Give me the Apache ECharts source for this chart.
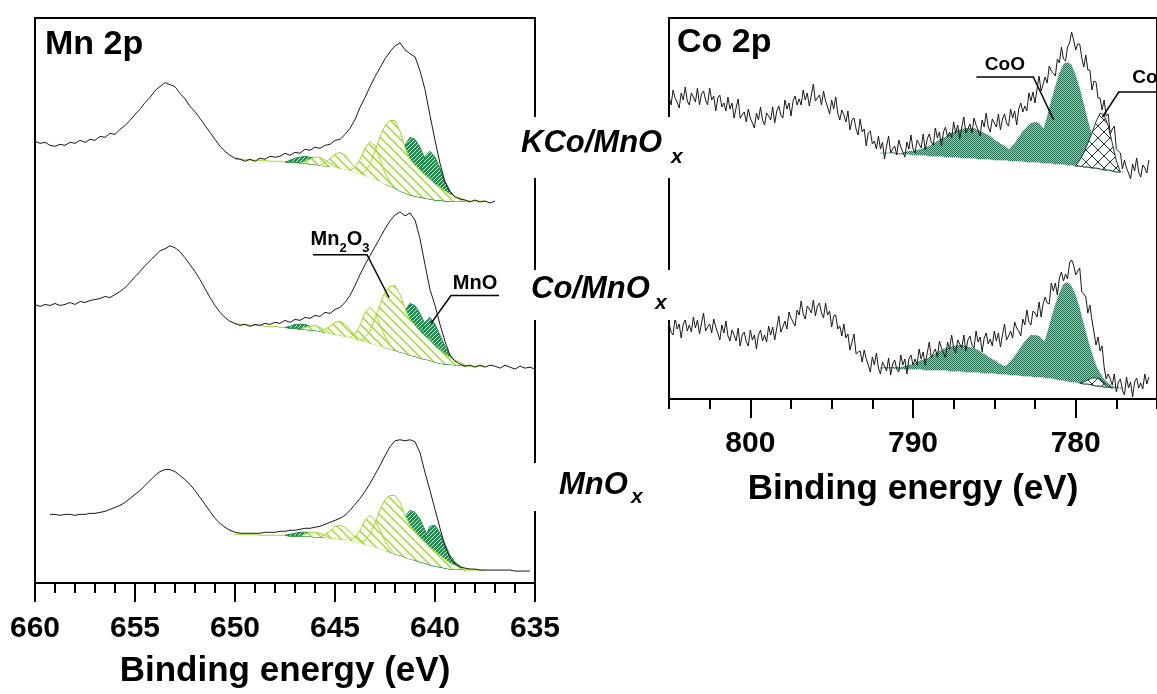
<!DOCTYPE html>
<html>
<head>
<meta charset="utf-8">
<title>Mn 2p / Co 2p XPS</title>
<script src="https://cdn.jsdelivr.net/npm/echarts@6.0.0/dist/echarts.min.js"></script>
<style>
  html, body { margin: 0; padding: 0; background: #fff; }
  #chart { width: 1157px; height: 694px; }
</style>
</head>
<body>
<div id="chart"></div>
<script>
const FONT = 'Liberation Sans';
const MN_STEP = 0.25;  // eV between Mn 2p points (and all fit grids)
const CO_STEP = 0.125; // eV between Co 2p raw points

// ---- Mn 2p raw spectra (a.u.), high -> low binding energy
const mnKStart = 660.0;   // KCo/MnOx
const mnK = [
  44.4, 44.2, 44.3, 44.0, 43.9, 44.1, 44.0, 44.3, 44.2, 44.5,
  44.3, 44.6, 44.5, 44.9, 44.8, 45.2, 45.1, 45.6, 46.0, 46.5,
  47.1, 47.6, 48.3, 48.8, 49.5, 49.9, 50.3, 50.1, 49.9, 49.2,
  48.7, 47.9, 47.4, 46.7, 46.0, 45.3, 44.6, 43.9, 43.4, 43.0,
  42.7, 42.6, 42.4, 42.6, 42.4, 42.7, 42.6, 42.9, 42.8, 42.9,
  43.2, 43.0, 43.3, 43.2, 43.6, 43.5, 43.8, 43.7, 44.0, 44.1,
  44.5, 44.6, 45.1, 45.7, 46.6, 47.8, 48.8, 49.9, 50.9, 51.8,
  52.7, 53.4, 54.0, 54.3, 53.6, 53.2, 52.9, 51.5, 49.6, 47.0,
  44.5, 42.2, 40.3, 39.3, 38.8, 38.6, 38.5, 38.3, 38.5, 38.3,
  38.4, 38.2, 38.4
];
const mnCStart = 660.0;   // Co/MnOx
const mnC = [
  28.0, 27.8, 28.0, 27.9, 28.1, 27.9, 28.0, 28.2, 28.0, 28.3,
  28.2, 28.4, 28.5, 28.6, 28.8, 28.7, 29.0, 29.3, 29.7, 30.2,
  30.8, 31.3, 31.9, 32.4, 32.9, 33.4, 33.6, 33.9, 33.7, 33.3,
  32.7, 32.0, 31.3, 30.5, 29.6, 28.7, 27.9, 27.2, 26.7, 26.3,
  26.1, 25.9, 26.0, 25.8, 26.0, 25.9, 26.1, 26.0, 26.2, 26.1,
  26.4, 26.2, 26.5, 26.4, 26.7, 26.6, 26.9, 26.8, 27.2, 27.1,
  27.5, 27.7, 28.2, 28.9, 29.9, 31.0, 32.0, 32.9, 33.8, 34.7,
  35.6, 36.4, 37.0, 37.3, 36.9, 37.2, 36.5, 34.6, 32.0, 29.5,
  27.9, 26.0, 24.3, 22.9, 22.3, 22.0, 21.8, 21.9, 21.7, 21.9,
  21.7, 21.9, 21.8, 21.6, 21.9, 21.7, 21.5, 21.8, 21.6, 21.7,
  21.5
];
const mnMStart = 659.25;  // MnOx
const mnM = [
  6.9, 6.9, 6.8, 6.9, 6.9, 6.8, 6.9, 6.9, 7.0, 7.0,
  7.1, 7.2, 7.4, 7.6, 7.8, 8.1, 8.5, 8.9, 9.3, 9.8,
  10.3, 10.8, 11.2, 11.4, 11.4, 11.2, 10.8, 10.4, 9.9, 9.3,
  8.6, 7.9, 7.2, 6.5, 6.0, 5.6, 5.3, 5.1, 5.0, 5.0,
  5.0, 5.0, 5.0, 5.1, 5.1, 5.1, 5.2, 5.2, 5.3, 5.3,
  5.4, 5.5, 5.5, 5.6, 5.7, 5.9, 6.1, 6.3, 6.5, 6.8,
  7.3, 7.9, 8.5, 9.2, 10.0, 10.9, 11.8, 12.8, 13.7, 14.3,
  14.4, 14.3, 14.4, 14.2, 13.1, 11.1, 9.3, 7.4, 5.5, 3.7,
  2.5, 1.9, 1.6, 1.5, 1.4, 1.4, 1.3, 1.3, 1.3, 1.3,
  1.3, 1.3, 1.3, 1.2, 1.2, 1.2, 1.2
];

// ---- Mn 2p fit backgrounds, 650 -> 637.5 eV
const mnFitStart = 650.0;
const mnKBase = [
  42.6, 42.6, 42.6, 42.5, 42.5, 42.5, 42.5, 42.4, 42.4, 42.4,
  42.3, 42.3, 42.3, 42.2, 42.2, 42.1, 42.1, 42.0, 41.9, 41.9,
  41.8, 41.7, 41.6, 41.5, 41.3, 41.2, 41.0, 40.8, 40.6, 40.4,
  40.1, 39.9, 39.7, 39.4, 39.2, 39.0, 38.9, 38.8, 38.7, 38.6,
  38.5, 38.5, 38.4, 38.4, 38.4, 38.4, 38.4, 38.4, 38.4, 38.4,
  38.4
];
const mnCBase = [
  26.0, 26.0, 26.0, 25.9, 25.9, 25.9, 25.8, 25.8, 25.8, 25.7,
  25.7, 25.6, 25.6, 25.5, 25.5, 25.4, 25.4, 25.3, 25.2, 25.1,
  25.0, 24.9, 24.8, 24.7, 24.5, 24.4, 24.3, 24.1, 24.0, 23.8,
  23.7, 23.5, 23.4, 23.2, 23.1, 22.9, 22.8, 22.6, 22.5, 22.4,
  22.2, 22.1, 22.0, 22.0, 21.9, 21.9, 21.8, 21.8, 21.8, 21.8,
  21.8
];
const mnMBase = [
  4.9, 4.9, 4.9, 4.9, 4.9, 4.8, 4.8, 4.8, 4.8, 4.8,
  4.8, 4.7, 4.7, 4.7, 4.7, 4.7, 4.6, 4.6, 4.6, 4.5,
  4.5, 4.4, 4.4, 4.3, 4.2, 4.1, 3.9, 3.8, 3.6, 3.5,
  3.3, 3.1, 2.9, 2.8, 2.6, 2.4, 2.3, 2.1, 2.0, 1.8,
  1.7, 1.6, 1.5, 1.4, 1.4, 1.4, 1.3, 1.3, 1.3, 1.3,
  1.3
];

// fitted components: [first energy, heights above the background]
const mnKMn2O3 = [
  [646.75, [0, 0.2, 0.5, 0.7, 0.8, 0.6, 0.3, 0.1, 0]],
  [645.75, [0, 0.3, 0.8, 1.3, 1.6, 1.4, 0.9, 0.4, 0.1, 0]],
  [644.25, [0, 0.5, 1.4, 2.7, 3.6, 3.3, 2.2, 1.1, 0.4, 0]],
  [643.75, [0, 0.4, 1.3, 2.8, 4.5, 5.9, 6.6, 6.8, 6.0, 4.6, 3.6, 3.1, 2.7, 2.3, 2.0, 1.6, 1.3, 1.0, 0.7, 0.5, 0.3, 0.1, 0]]
];
const mnKMnO = [
  [647.5, [0, 0.2, 0.4, 0.6, 0.7, 0.7, 0.6, 0.4, 0.2, 0]],
  [642.5, [0, 0.5, 1.6, 3.2, 4.8, 5.8, 5.7, 5.0, 3.9, 2.6, 1.5, 0.7, 0.2, 0]],
  [641.25, [0, 0.8, 2.4, 4.2, 4.8, 4.3, 3.2, 2.0, 1.0, 0.4, 0.1, 0]]
];
const mnCMn2O3 = [
  [646.75, [0, 0.2, 0.4, 0.5, 0.4, 0.2, 0]],
  [645.75, [0, 0.3, 0.7, 1.2, 1.4, 1.2, 0.8, 0.4, 0.1, 0]],
  [644.25, [0, 0.5, 1.5, 2.9, 3.6, 3.2, 2.1, 1.1, 0.4, 0]],
  [643.75, [0, 0.4, 1.2, 2.6, 4.2, 5.6, 6.3, 6.5, 5.8, 4.5, 3.6, 3.1, 2.7, 2.3, 2.0, 1.6, 1.3, 1.0, 0.7, 0.5, 0.3, 0.1, 0]]
];
const mnCMnO = [
  [647.5, [0, 0.2, 0.4, 0.5, 0.5, 0.4, 0.3, 0.1, 0]],
  [642.5, [0, 0.5, 1.5, 2.9, 4.3, 5.2, 5.1, 4.5, 3.5, 2.3, 1.3, 0.6, 0.2, 0]],
  [641.25, [0, 0.7, 2.1, 3.7, 4.3, 3.8, 2.8, 1.8, 0.9, 0.4, 0.1, 0]]
];
const mnMMn2O3 = [
  [646.75, [0, 0.2, 0.4, 0.5, 0.4, 0.2, 0]],
  [645.75, [0, 0.3, 0.7, 1.2, 1.4, 1.2, 0.8, 0.4, 0.1, 0]],
  [644.25, [0, 0.4, 1.2, 2.4, 3.0, 2.7, 1.8, 0.9, 0.3, 0]],
  [643.75, [0, 0.4, 1.1, 2.4, 3.9, 5.1, 5.7, 5.9, 5.3, 4.2, 3.4, 2.9, 2.5, 2.1, 1.8, 1.5, 1.2, 0.9, 0.6, 0.4, 0.2, 0.1, 0]]
];
const mnMMnO = [
  [647.5, [0, 0.2, 0.3, 0.4, 0.4, 0.3, 0.2, 0.1, 0]],
  [642.5, [0, 0.4, 1.4, 2.8, 4.1, 4.9, 4.8, 4.3, 3.3, 2.2, 1.3, 0.6, 0.2, 0]],
  [641.0, [0, 1.0, 2.6, 3.9, 4.1, 3.4, 2.4, 1.4, 0.7, 0.3, 0]]
];

// ---- Co 2p raw spectra (a.u.), 805 -> 775.5 eV
const coStart = 805.0;
const coK = [
  30.3, 29.4, 30.9, 30.1, 29.7, 29.1, 30.6, 29.9,
  31.2, 29.8, 29.4, 30.6, 30.2, 29.7, 31.1, 29.4,
  30.5, 30.8, 29.9, 29.4, 31.1, 29.9, 30.3, 28.8,
  30.1, 30.4, 29.2, 29.6, 28.8, 30.2, 29.0, 29.6,
  28.1, 29.1, 30.0, 28.1, 28.4, 28.7, 27.7, 29.0,
  28.1, 27.6, 27.1, 28.6, 27.9, 29.2, 27.9, 27.4,
  28.6, 28.3, 27.9, 29.2, 27.6, 28.8, 29.3, 28.4,
  28.1, 29.9, 29.0, 29.6, 28.3, 29.8, 30.3, 29.4,
  30.0, 29.4, 30.9, 29.9, 30.6, 29.3, 30.4, 31.5,
  29.8, 30.1, 30.4, 29.4, 30.8, 29.8, 29.2, 28.5,
  29.9, 29.0, 30.2, 28.6, 27.9, 28.9, 28.4, 27.7,
  28.8, 26.9, 27.9, 28.1, 27.0, 26.4, 28.0, 26.7,
  27.0, 25.3, 26.6, 26.8, 25.5, 25.8, 25.0, 26.3,
  25.0, 25.7, 24.0, 25.3, 26.3, 24.6, 25.0, 25.3,
  24.4, 25.9, 25.2, 24.7, 24.2, 25.7, 25.0, 26.4,
  25.0, 24.6, 25.9, 25.5, 25.1, 26.5, 24.9, 26.0,
  26.5, 25.7, 25.4, 27.1, 26.1, 26.7, 25.3, 26.7,
  27.2, 26.2, 26.7, 26.1, 27.7, 26.6, 27.4, 26.0,
  27.2, 28.2, 26.6, 27.0, 27.5, 26.6, 28.1, 27.4,
  26.9, 26.3, 27.9, 27.2, 28.6, 27.2, 26.7, 28.0,
  27.6, 27.2, 28.5, 26.9, 28.0, 28.5, 27.6, 27.3,
  29.0, 28.1, 28.8, 27.4, 29.0, 29.6, 28.7, 29.3,
  28.8, 30.6, 29.8, 30.7, 29.6, 31.0, 32.3, 30.8,
  31.5, 32.2, 31.6, 33.3, 32.8, 32.6, 32.3, 34.0,
  33.6, 35.2, 34.0, 33.8, 35.2, 35.6, 36.7, 35.9,
  34.9, 35.5, 35.5, 34.1, 33.2, 34.4, 32.9, 32.9,
  30.9, 31.8, 31.7, 30.1, 30.1, 28.9, 29.9, 28.3,
  28.5, 26.5, 27.0, 27.3, 25.0, 24.8, 24.6, 23.0,
  23.9, 23.1, 22.6, 22.0, 23.5, 22.8, 24.1, 22.7,
  22.2, 23.4, 23.1, 22.6, 23.9
];
const coC = [
  7.6, 6.7, 6.4, 8.1, 7.0, 7.5, 6.1, 7.5,
  7.9, 6.8, 7.4, 6.7, 8.2, 7.1, 7.9, 6.5,
  7.6, 8.6, 6.8, 7.2, 7.5, 6.6, 8.0, 7.2,
  6.6, 5.9, 7.4, 6.6, 7.8, 6.3, 5.8, 6.9,
  6.4, 5.8, 7.1, 5.3, 6.4, 6.7, 5.7, 5.3,
  6.9, 5.9, 6.4, 5.0, 6.4, 6.9, 5.8, 6.4,
  5.7, 7.3, 6.4, 7.2, 5.9, 7.1, 8.3, 6.7,
  7.2, 7.8, 7.0, 8.7, 8.1, 7.7, 7.3, 8.9,
  8.4, 9.8, 8.5, 8.0, 9.3, 9.0, 8.6, 9.9,
  8.3, 9.3, 9.6, 8.6, 8.1, 9.6, 8.4, 8.8,
  7.2, 8.3, 8.4, 7.0, 7.3, 6.3, 7.5, 6.1,
  6.5, 4.9, 5.7, 6.5, 4.5, 4.7, 4.8, 3.7,
  4.9, 4.0, 3.4, 2.7, 4.2, 3.4, 4.6, 3.1,
  2.5, 3.7, 3.3, 2.8, 4.1, 2.4, 3.5, 3.9,
  3.0, 2.7, 4.4, 3.4, 4.0, 2.5, 4.0, 4.4,
  3.4, 4.0, 3.4, 5.0, 4.0, 4.7, 3.4, 4.6,
  5.7, 4.1, 4.6, 5.0, 4.2, 5.8, 5.1, 4.6,
  4.1, 5.7, 5.0, 6.4, 5.1, 4.6, 5.9, 5.5,
  5.1, 6.4, 4.8, 5.9, 6.3, 5.4, 5.1, 6.8,
  5.7, 6.2, 4.7, 6.1, 6.6, 5.5, 6.0, 5.3,
  6.8, 5.8, 6.6, 5.2, 6.4, 7.5, 5.9, 6.3,
  6.8, 6.1, 7.7, 7.1, 6.8, 6.3, 8.0, 7.4,
  8.9, 7.7, 7.4, 8.8, 8.6, 8.2, 9.7, 8.2,
  9.5, 10.2, 9.6, 9.5, 11.6, 10.8, 11.6, 10.4,
  12.1, 12.7, 11.8, 12.5, 12.0, 13.6, 13.9, 13.4,
  12.4, 12.8, 13.1, 10.7, 10.5, 10.2, 8.6, 9.4,
  7.9, 6.7, 5.4, 6.2, 4.8, 5.3, 3.2, 2.0,
  2.5, 2.0, 1.4, 2.5, 0.7, 1.7, 2.0, 0.9,
  0.4, 2.2, 1.1, 1.7, 0.2, 1.7, 2.1, 1.1,
  1.6, 1.0, 2.5, 1.5, 2.2
];

// ---- Co 2p fit backgrounds, 792 -> 777 eV (0.25 eV)
const coFitStart = 792.0;
const coKBase = [
  24.6, 24.6, 24.6, 24.6, 24.5, 24.5, 24.5, 24.5, 24.4, 24.4,
  24.4, 24.4, 24.3, 24.3, 24.3, 24.3, 24.2, 24.2, 24.2, 24.2,
  24.1, 24.1, 24.1, 24.1, 24.0, 24.0, 24.0, 24.0, 23.9, 23.9,
  23.9, 23.9, 23.8, 23.8, 23.8, 23.8, 23.7, 23.7, 23.7, 23.7,
  23.6, 23.6, 23.6, 23.5, 23.5, 23.5, 23.4, 23.4, 23.3, 23.3,
  23.2, 23.2, 23.1, 23.1, 23.0, 22.9, 22.9, 22.8, 22.7, 22.7,
  22.7
];
const coCBase = [
  3.1, 3.1, 3.1, 3.1, 3.0, 3.0, 3.0, 3.0, 3.0, 3.0,
  3.0, 2.9, 2.9, 2.9, 2.9, 2.9, 2.9, 2.8, 2.8, 2.8,
  2.8, 2.7, 2.7, 2.7, 2.7, 2.6, 2.6, 2.6, 2.6, 2.5,
  2.5, 2.5, 2.4, 2.4, 2.4, 2.3, 2.3, 2.3, 2.2, 2.2,
  2.2, 2.1, 2.1, 2.0, 1.9, 1.9, 1.8, 1.7, 1.7, 1.6,
  1.5, 1.5, 1.4, 1.3, 1.3, 1.2, 1.2, 1.1, 1.1, 1.1,
  1.1
];
const coKCoO = [
  [791.5, [0, 0.1, 0.1, 0.1, 0.2, 0.3, 0.4, 0.5, 0.6, 0.8, 1.0, 1.3, 1.5, 1.8, 2.0, 2.3, 2.5, 2.7, 2.9, 3.0,
           3.0, 3.0, 2.9, 2.7, 2.5, 2.3, 2.0, 1.8, 1.5, 1.3, 1.0, 0.8, 0.6, 0.5, 0.4, 0.3, 0.2, 0.1, 0.1, 0.1, 0]],
  [785.5, [0, 0.1, 0.2, 0.3, 0.5, 0.9, 1.3, 1.8, 2.4, 3.0, 3.5, 3.9, 4.0, 3.9, 3.5, 3.0, 2.4, 1.8, 1.3, 0.9, 0.5, 0.3, 0.2, 0.1, 0]],
  [783.75, [0, 0.1, 0.2, 0.5, 0.8, 1.4, 2.2, 3.3, 4.7, 6.3, 7.8, 9.1, 10.0, 10.3, 10.0, 9.1, 7.8, 6.3, 4.7, 3.3, 2.2, 1.4, 0.8, 0.5, 0.2, 0.1, 0]]
];
const coKCo3O4 = [
  [780.0, [0, 0.6, 1.4, 2.4, 3.5, 4.6, 5.6, 5.5, 4.4, 2.8, 1.1, 0]]
];
const coCCoO = [
  [792.0, [0, 0.1, 0.1, 0.1, 0.2, 0.2, 0.3, 0.4, 0.5, 0.7, 0.9, 1.1, 1.3, 1.5, 1.8, 2.0, 2.2, 2.4, 2.5, 2.6,
           2.6, 2.6, 2.5, 2.4, 2.2, 2.0, 1.8, 1.5, 1.3, 1.1, 0.9, 0.7, 0.5, 0.4, 0.3, 0.2, 0.2, 0.1, 0.1, 0.1, 0]],
  [785.5, [0, 0.1, 0.2, 0.3, 0.6, 0.9, 1.4, 1.9, 2.5, 3.2, 3.7, 4.1, 4.2, 4.1, 3.7, 3.2, 2.5, 1.9, 1.4, 0.9, 0.6, 0.3, 0.2, 0.1, 0]],
  [783.75, [0, 0.1, 0.2, 0.4, 0.8, 1.3, 2.1, 3.2, 4.5, 6.0, 7.5, 8.7, 9.6, 9.9, 9.6, 8.7, 7.5, 6.0, 4.5, 3.2, 2.1, 1.3, 0.8, 0.4, 0.2, 0.1, 0]]
];
const coCCo3O4 = [
  [779.75, [0, 0.2, 0.4, 0.7, 0.8, 0.7, 0.4, 0.1, 0]]
];

const coMajorTicks = [780, 790, 800];

// labels with leader lines: text, underline from, underline to (leader starts here), underline level, leader end energy, leader end level
const mnNotes = [
  ['Mn2O3', 646.1, 643.4, 33.0, 642.3, 28.7],
  ['MnO', 636.8, 639.2, 28.9, 640.2, 26.1]
];
const coNotes = [
  ['CoO', 786.1, 782.6, 32.2, 781.35, 27.9],
  ['Co3O4', 772.4, 777.35, 30.7, 778.35, 28.2]
];

// ---- fill patterns
function pattern(size, bg, draw) {
  const c = document.createElement('canvas');
  c.width = size; c.height = size;
  const g = c.getContext('2d');
  g.fillStyle = bg; g.fillRect(0, 0, size, size);
  draw(g, size);
  return { image: c, repeat: 'repeat' };
}
const MN2O3_GREEN = '#9bdc22';
const MNO_GREEN = '#218c4c';
const mn2o3Fill = pattern(9, '#fff', function (g, s) {
  g.strokeStyle = MN2O3_GREEN; g.lineWidth = 1.4;
  g.beginPath();
  g.moveTo(-1, -1); g.lineTo(s + 1, s + 1);
  g.moveTo(s - 1, -1); g.lineTo(s + 1, 1);
  g.moveTo(-1, s - 1); g.lineTo(1, s + 1);
  g.stroke();
});
const mnoFill = pattern(4, '#fff', function (g) {
  g.fillStyle = MNO_GREEN;
  g.fillRect(0, 0, 4, 4);
  g.fillStyle = '#fff';
  [[1, 0], [0, 1], [3, 2], [2, 3]].forEach(function (p) { g.fillRect(p[0], p[1], 1, 1); });
});
const cooFill = pattern(2, '#9ccbb4', function (g) {
  g.fillStyle = '#246e4f';
  g.fillRect(0, 0, 1, 1); g.fillRect(1, 1, 1, 1);
});
const co3o4Fill = pattern(12, '#fff', function (g, s) {
  g.strokeStyle = '#173f30'; g.lineWidth = 1;
  g.beginPath();
  g.moveTo(0, 0); g.lineTo(s, s);
  g.moveTo(s, 0); g.lineTo(0, s);
  g.stroke();
  g.fillStyle = '#173f30';
  g.fillRect(s / 2 - 1, s / 2 - 1, 2, 2);
  g.fillRect(0, 0, 1, 1); g.fillRect(s - 1, 0, 1, 1); g.fillRect(0, s - 1, 1, 1); g.fillRect(s - 1, s - 1, 1, 1);
});

// ---- series builders
const toPairs = (start, step, vals) => vals.map((v, i) => [start - i * step, v]);

function rawLine(xi, yi, start, step, vals) {
  return {
    type: 'line', xAxisIndex: xi, yAxisIndex: yi, z: 6, silent: true,
    data: toPairs(start, step, vals), symbol: 'none',
    lineStyle: { color: '#1a1a1a', width: 1 }
  };
}
function baseLine(xi, yi, start, vals, color, type) {
  return {
    type: 'line', xAxisIndex: xi, yAxisIndex: yi, z: 2, silent: true,
    data: toPairs(start, MN_STEP, vals), symbol: 'none',
    lineStyle: { color: color, width: 1, type: type }
  };
}
function peaks(xi, yi, fitStart, base, list, fill, stroke, z, outlineOnly) {
  return {
    type: 'custom', xAxisIndex: xi, yAxisIndex: yi, z: z, silent: true,
    data: list.map(p => [p[0], base[Math.round((fitStart - p[0]) / MN_STEP)]]),
    encode: { x: 0, y: 1 },
    renderItem: function (params, api) {
      const p = list[params.dataIndex];
      const top = [], bottom = [];
      p[1].forEach(function (h, j) {
        const e = p[0] - j * MN_STEP;
        const b = base[Math.round((fitStart - e) / MN_STEP)];
        top.push(api.coord([e, b + h]));
        bottom.push(api.coord([e, b]));
      });
      if (outlineOnly) {
        return { type: 'polyline', shape: { points: top }, style: { stroke: stroke, lineWidth: 1, fill: null } };
      }
      return {
        type: 'polygon',
        shape: { points: top.concat(bottom.reverse()) },
        style: { fill: fill, stroke: stroke, lineWidth: 1 }
      };
    }
  };
}
function richLabel(s) {
  return s.replace(/([A-Za-z]+)|(\d)/g, (m, a, d) => a ? '{n|' + a + '}' : '{s|' + d + '}');
}
function notes(xi, yi, list, fs) {
  return {
    type: 'custom', xAxisIndex: xi, yAxisIndex: yi, z: 8, silent: true,
    data: list.map(n => [n[1], n[3]]),
    encode: { x: 0, y: 1 },
    renderItem: function (params, api) {
      const n = list[params.dataIndex];
      const a = api.coord([n[1], n[3]]);
      const b = api.coord([n[2], n[3]]);
      const t = api.coord([n[4], n[5]]);
      const sub = /\d/.test(n[0]);
      return {
        type: 'group',
        children: [
          { type: 'polyline', shape: { points: [a, b, t] }, style: { stroke: '#000', lineWidth: 1.5, fill: null } },
          {
            type: 'text', x: (a[0] + b[0]) / 2, y: a[1] - (sub ? 0 : 2.5),
            style: {
              text: richLabel(n[0]), align: 'center', verticalAlign: 'bottom', fill: '#000',
              rich: {
                n: { fontSize: fs, fontWeight: 'bold', fontFamily: FONT, fill: '#000', verticalAlign: 'bottom', padding: [0, 0, sub ? 5 : 0, 0] },
                s: { fontSize: Math.round(fs * 0.65), fontWeight: 'bold', fontFamily: FONT, fill: '#000', verticalAlign: 'bottom' }
              }
            }
          }
        ]
      };
    }
  };
}

const axisFont = { color: '#000', fontSize: 30, fontWeight: 'bold', fontFamily: FONT };
const nameFont = { color: '#000', fontSize: 35, fontWeight: 'bold', fontFamily: FONT };
const blackLine = { color: '#000', width: 2 };

function textEl(x, y, text, font) {
  return { type: 'text', x: x, y: y, z: 101, style: { text: text, font: font, fill: '#000', align: 'left', verticalAlign: 'middle' } };
}
function gap(x, y, h) {
  return { type: 'rect', z: 100, shape: { x: x - 7, y: y, width: 14, height: h }, style: { fill: '#fff' } };
}
const SAMPLE_FONT = 'italic bold 31px "Liberation Sans"';
const SUB_FONT = 'italic bold 21px "Liberation Sans"';

const chart = echarts.init(document.getElementById('chart'));

const option = {
  animation: false,
  backgroundColor: '#fff',
  textStyle: { fontFamily: FONT },
  grid: [
    { left: 35, top: 18, width: 500, height: 568, show: true, borderColor: '#000', borderWidth: 2 },
    { left: 669, top: 18, width: 500, height: 381, show: true, borderColor: '#000', borderWidth: 2 }
  ],
  xAxis: [
    {
      type: 'value', gridIndex: 0, min: 635, max: 660, interval: 5, inverse: true,
      axisLine: { show: true, onZero: false, lineStyle: blackLine },
      axisTick: { show: true, length: 19, lineStyle: blackLine },
      minorTick: { show: true, splitNumber: 5, length: 10, lineStyle: blackLine },
      splitLine: { show: false },
      axisLabel: Object.assign({ margin: 31 }, axisFont),
      name: 'Binding energy (eV)', nameLocation: 'middle', nameGap: 71, nameTextStyle: nameFont
    },
    {
      type: 'value', gridIndex: 1, min: 775, max: 805, interval: 2.5, inverse: true, position: 'bottom',
      axisLine: { show: true, onZero: false, lineStyle: blackLine },
      axisTick: { show: true, length: 10, lineStyle: blackLine },
      axisLabel: { show: false },
      splitLine: { show: false }
    },
    {
      type: 'value', gridIndex: 1, min: 775, max: 805, inverse: true, position: 'bottom',
      axisLine: { show: false, onZero: false },
      axisTick: { show: true, length: 19, lineStyle: blackLine, customValues: coMajorTicks },
      axisLabel: Object.assign({ margin: 30, customValues: coMajorTicks }, axisFont),
      splitLine: { show: false },
      name: 'Binding energy (eV)', nameLocation: 'middle', nameGap: 73, nameTextStyle: nameFont
    }
  ],
  yAxis: [
    { type: 'value', gridIndex: 0, min: 0, max: 56.8, show: false },
    { type: 'value', gridIndex: 1, min: 0, max: 38.1, show: false }
  ],
  graphic: [
    gap(535, 117, 61), gap(669, 117, 61),
    gap(535, 270, 50), gap(669, 270, 50),
    gap(535, 463, 48),
    textEl(45, 45, 'Mn 2p', 'bold 34px "Liberation Sans"'),
    textEl(677, 43, 'Co 2p', 'bold 34px "Liberation Sans"'),
    textEl(521, 143, 'KCo/MnO', SAMPLE_FONT), textEl(671, 157, 'x', SUB_FONT),
    textEl(531, 289, 'Co/MnO', SAMPLE_FONT), textEl(655, 303, 'x', SUB_FONT),
    textEl(559, 485, 'MnO', SAMPLE_FONT), textEl(631, 497, 'x', SUB_FONT)
  ],
  series: [
    // Mn 2p fits
    baseLine(0, 0, mnFitStart, mnKBase, MN2O3_GREEN, 'solid'),
    baseLine(0, 0, mnFitStart, mnCBase, MN2O3_GREEN, 'solid'),
    baseLine(0, 0, mnFitStart, mnMBase, MN2O3_GREEN, 'solid'),
    peaks(0, 0, mnFitStart, mnKBase, mnKMnO, mnoFill, MNO_GREEN, 3),
    peaks(0, 0, mnFitStart, mnCBase, mnCMnO, mnoFill, MNO_GREEN, 3),
    peaks(0, 0, mnFitStart, mnMBase, mnMMnO, mnoFill, MNO_GREEN, 3),
    peaks(0, 0, mnFitStart, mnKBase, mnKMn2O3, mn2o3Fill, null, 4),
    peaks(0, 0, mnFitStart, mnCBase, mnCMn2O3, mn2o3Fill, null, 4),
    peaks(0, 0, mnFitStart, mnMBase, mnMMn2O3, mn2o3Fill, null, 4),
    peaks(0, 0, mnFitStart, mnKBase, mnKMn2O3, null, MN2O3_GREEN, 5, true),
    peaks(0, 0, mnFitStart, mnCBase, mnCMn2O3, null, MN2O3_GREEN, 5, true),
    peaks(0, 0, mnFitStart, mnMBase, mnMMn2O3, null, MN2O3_GREEN, 5, true),
    // Mn 2p spectra
    rawLine(0, 0, mnKStart, MN_STEP, mnK),
    rawLine(0, 0, mnCStart, MN_STEP, mnC),
    rawLine(0, 0, mnMStart, MN_STEP, mnM),
    notes(0, 0, mnNotes, 20),
    // Co 2p fits
    baseLine(1, 1, coFitStart, coKBase, '#2b6b50', 'dotted'),
    baseLine(1, 1, coFitStart, coCBase, '#2b6b50', 'dotted'),
    peaks(1, 1, coFitStart, coKBase, coKCoO, cooFill, null, 3),
    peaks(1, 1, coFitStart, coCBase, coCCoO, cooFill, null, 3),
    peaks(1, 1, coFitStart, coKBase, coKCo3O4, co3o4Fill, '#173f30', 4),
    peaks(1, 1, coFitStart, coCBase, coCCo3O4, co3o4Fill, '#173f30', 4),
    // Co 2p spectra
    rawLine(1, 1, coStart, CO_STEP, coK),
    rawLine(1, 1, coStart, CO_STEP, coC),
    notes(1, 1, coNotes, 19)
  ]
};

chart.setOption(option);
window.addEventListener('resize', function () { chart.resize(); });
</script>
</body>
</html>
